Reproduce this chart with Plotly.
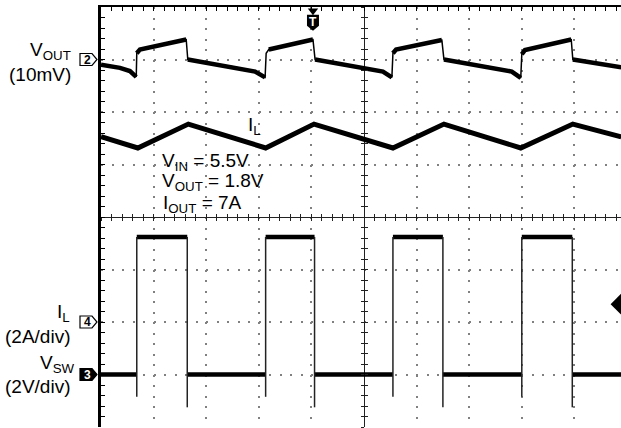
import plotly.graph_objects as go

# scope channel settings: reference level (divisions from screen centre) and units per division
VOUT_REF, VOUT_PER_DIV = 3.0, 10.0   # mV/div
IL_REF, IL_PER_DIV = -2.0, 2.0       # A/div
VSW_REF, VSW_PER_DIV = -3.0, 2.0     # V/div

# time in divisions from the left edge of the screen
vout_t = [0.0, 0.36, 0.55, 0.67, 0.68, 0.74, 1.62, 1.65, 2.51, 2.93, 3.12, 3.14, 3.19,
          4.03, 4.07, 4.92, 5.36, 5.53, 5.55, 5.61, 6.48, 6.52, 7.38, 7.81, 7.98, 8.00,
          8.06, 8.94, 8.97, 9.89]
vout_mv = [-1.0, -1.6, -2.2, -3.3, 1.2, 1.9, 3.8, 0.0, -1.4, -2.3, -3.4, 1.2, 1.9,
           3.8, 0.0, -1.4, -2.3, -3.4, 1.2, 1.9, 3.7, 0.0, -1.4, -2.3, -3.5, 1.0,
           1.8, 3.8, 0.0, -1.5]

il_t = [0.0, 0.70, 1.66, 3.13, 4.05, 5.55, 6.52, 7.98, 8.97, 9.89]
il_a = [7.06, 6.63, 7.54, 6.63, 7.54, 6.63, 7.54, 6.63, 7.54, 7.05]

sw_rise = [0.68, 3.13, 5.55, 8.00]
sw_fall = [1.64, 4.06, 6.50, 8.96]
sw_high_v = 5.24
sw_low_v = 0.0
sw_rise_dip_v = -0.85
sw_fall_dip_v = -1.25
t_end = 9.89

FONT = "Liberation Sans, Arial, sans-serif"
X_RANGE = [-5, 4.886]
Y_RANGE = [-4, 4]


def tx(t):
    return t - 5


def lvl(v, ref, per_div):
    return ref + v / per_div


fig = go.Figure()

# V_OUT: thin full trace for the jumps, thick noisy-looking ramps on top
fig.add_trace(go.Scatter(x=[tx(t) for t in vout_t],
                         y=[lvl(v, VOUT_REF, VOUT_PER_DIV) for v in vout_mv],
                         mode="lines", line=dict(color="black", width=1.5)))
xs, ys = [], []
for i, (t, v) in enumerate(zip(vout_t, vout_mv)):
    if i > 0 and t - vout_t[i - 1] < 0.05:
        xs.append(None)
        ys.append(None)
    xs.append(tx(t))
    ys.append(lvl(v, VOUT_REF, VOUT_PER_DIV))
fig.add_trace(go.Scatter(x=xs, y=ys, mode="lines", line=dict(color="black", width=4.5)))

# inductor current
fig.add_trace(go.Scatter(x=[tx(t) for t in il_t],
                         y=[lvl(a, IL_REF, IL_PER_DIV) for a in il_a],
                         mode="lines", line=dict(color="black", width=5)))

# switch node: plateaus thick, edges thin
starts = [0.0] + sw_fall
ends = sw_rise + [t_end]
px, py = [], []
for s, e in zip(starts, ends):
    px += [tx(s), tx(e), None]
    py += [lvl(sw_low_v, VSW_REF, VSW_PER_DIV)] * 2 + [None]
for s, e in zip(sw_rise, sw_fall):
    px += [tx(s), tx(e), None]
    py += [lvl(sw_high_v, VSW_REF, VSW_PER_DIV)] * 2 + [None]
fig.add_trace(go.Scatter(x=px, y=py, mode="lines", line=dict(color="black", width=4.5)))
ex, ey = [], []
for s, e in zip(sw_rise, sw_fall):
    ex += [tx(s), tx(s), None, tx(e), tx(e), None]
    ey += [lvl(sw_rise_dip_v, VSW_REF, VSW_PER_DIV), lvl(sw_high_v, VSW_REF, VSW_PER_DIV), None,
           lvl(sw_high_v, VSW_REF, VSW_PER_DIV), lvl(sw_fall_dip_v, VSW_REF, VSW_PER_DIV), None]
fig.add_trace(go.Scatter(x=ex, y=ey, mode="lines", line=dict(color="#222", width=1.5)))

# trigger markers
trig_x = -0.97
fig.add_trace(go.Scatter(x=[trig_x], y=[3.93], mode="markers", cliponaxis=False,
                         marker=dict(symbol="triangle-down", size=9, color="black")))
fig.add_trace(go.Scatter(x=[X_RANGE[1]], y=[-1.66], mode="markers",
                         marker=dict(symbol="diamond", size=16, color="black")))

# dummy traces so the centre tick axes are drawn
fig.add_trace(go.Scatter(x=[None], y=[None], xaxis="x2", yaxis="y2"))
fig.add_trace(go.Scatter(x=[None], y=[None], xaxis="x3", yaxis="y3"))

fig.update_traces(showlegend=False, hoverinfo="skip")

grid = dict(showgrid=True, gridcolor="#808080", gridwidth=2, griddash="2px,8.5px",
            zeroline=True, zerolinecolor="#222", zerolinewidth=1,
            showline=True, linecolor="black", ticks="inside", ticklen=4,
            tickcolor="black", dtick=1, tick0=0, showticklabels=False, fixedrange=True,
            minor=dict(dtick=0.2, tick0=0, ticks="inside", ticklen=4, tickcolor="black",
                       showgrid=False))
centre = dict(showgrid=False, zeroline=False, showline=False, showticklabels=False,
              dtick=0.2, tick0=0, ticklen=3, tickcolor="#222", fixedrange=True,
              anchor="free")
y_mid = (0 - X_RANGE[0]) / (X_RANGE[1] - X_RANGE[0])

fig.update_layout(
    width=621, height=428,
    margin=dict(l=101, r=0, t=7, b=1),
    paper_bgcolor="white", plot_bgcolor="white",
    xaxis=dict(range=X_RANGE, side="top", linewidth=2, **grid),
    yaxis=dict(range=Y_RANGE, linewidth=3, **grid),
    xaxis2=dict(range=X_RANGE, overlaying="x", position=0.5, ticks="outside", **centre),
    xaxis3=dict(range=X_RANGE, overlaying="x", position=0.5, ticks="inside", **centre),
    yaxis2=dict(range=Y_RANGE, overlaying="y", position=y_mid, ticks="outside", **centre),
    yaxis3=dict(range=Y_RANGE, overlaying="y", position=y_mid, ticks="inside", **centre),
    font=dict(family=FONT, size=19, color="black"),
)

# channel reference tags on the left edge
tag_path = "M -21,-6 L -9,-6 L -4,0 L -9,6 L -21,6 Z"
for ref, txt, filled in [(VOUT_REF, "2", False), (IL_REF, "4", False), (VSW_REF, "3", True)]:
    fig.add_shape(type="path", path=tag_path, xref="paper", xsizemode="pixel", xanchor=0,
                  yref="y", ysizemode="pixel", yanchor=ref,
                  fillcolor="black" if filled else "white", line=dict(color="black", width=1.2))
    fig.add_annotation(x=0, xref="paper", y=ref, yref="y", xshift=-14, xanchor="center",
                       text=f"<b>{txt}</b>", showarrow=False,
                       font=dict(size=12, color="white" if filled else "black"))

# trigger tag
fig.add_shape(type="path", path="M -6,8 L 6,8 L 6,-3 L 0,-8 L -6,-3 Z",
              xref="x", xsizemode="pixel", xanchor=trig_x,
              yref="y", ysizemode="pixel", yanchor=3.70, fillcolor="black", line=dict(width=0))
fig.add_annotation(x=trig_x, y=3.72, text="<b>T</b>", showarrow=False,
                   font=dict(size=12, color="white"))

left = [("V<sub>OUT</sub>", 3.16, -28), ("(10mV)", 2.72, -28),
        ("I<sub>L</sub>", -1.83, -29), ("(2A/div)", -2.27, -29),
        ("V<sub>SW</sub>", -2.80, -24), ("(2V/div)", -3.22, -29)]
for txt, y, shift in left:
    fig.add_annotation(x=0, xref="paper", y=y, yref="y", xshift=shift, xanchor="right",
                       text=txt, showarrow=False)

inside = [("V<sub>IN</sub> = 5.5V", -3.88, 1.04), ("V<sub>OUT</sub> = 1.8V", -3.88, 0.67),
          ("I<sub>OUT</sub> = 7A", -3.86, 0.25), ("I<sub>L</sub>", -2.25, 1.73)]
for txt, x, y in inside:
    fig.add_annotation(x=x, y=y, xanchor="left", text=txt, showarrow=False)

# the page's default body margin would shift the figure; remove it
fig.write_html("out.html", config={"displayModeBar": False},
               post_script="document.body.style.margin='0';")
